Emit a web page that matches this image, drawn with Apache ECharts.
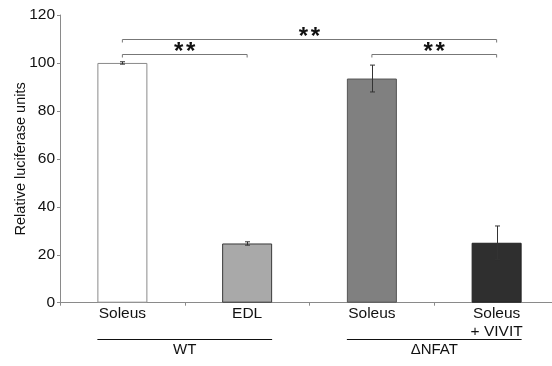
<!DOCTYPE html>
<html>
<head>
<meta charset="utf-8">
<script src="https://cdn.jsdelivr.net/npm/echarts@6/dist/echarts.min.js"></script>
<style>html,body{margin:0;padding:0;background:#fff}#c{width:552px;height:366px}</style>
</head>
<body>
<div id="c"></div>
<script>
// ---- data ----
var categories = ['Soleus', 'EDL', 'Soleus', 'Soleus\n+ VIVIT'];
var values = [100, 24.7, 93.5, 25];
var errors = [0.5, 0.7, 5.6, 7];
var yTicks = [0, 20, 40, 60, 80, 100, 120];
// significance brackets: [fromIndex, toIndex, yValue, label]
var brackets = [[0, 1, 103.8, '**'], [0, 3, 109.8, '**'], [2, 3, 103.8, '**']];
// group labels: [fromIndex, toIndex, label]
var groups = [[0, 1, 'WT'], [2, 3, '\u0394NFAT']];

// ---- styles ----
var fills = ['#ffffff', '#a9a9a9', '#808080', '#2f2f2f'];
var borders = ['#8a8a8a', '#3a3a3a', '#555555', '#222222'];
var FONT = 'Liberation Sans, Arial, sans-serif';

var chart = echarts.init(document.getElementById('c'));

var barData = values.map(function (v, i) {
  return { value: v, itemStyle: { color: fills[i], borderColor: borders[i], borderWidth: 1 } };
});
var errData = values.map(function (v, i) { return [i, v - errors[i], v + errors[i]]; });

chart.setOption({
  animation: false,
  grid: { left: 60, top: 15, width: 499, bottom: 63.3, containLabel: false, outerBoundsMode: 'none' },
  xAxis: {
    type: 'category',
    data: categories,
    axisLine: { lineStyle: { color: '#8a8a8a', width: 1 } },
    axisTick: { show: true, length: 3, lineStyle: { color: '#8a8a8a' } },
    axisLabel: { color: '#111', fontSize: 15.5, fontFamily: FONT, lineHeight: 18, margin: 2 }
  },
  yAxis: {
    type: 'value',
    min: yTicks[0], max: yTicks[yTicks.length - 1], interval: 20,
    name: 'Relative luciferase units',
    nameLocation: 'middle',
    nameGap: 32,
    nameMoveOverlap: false,
    nameTextStyle: { color: '#111', fontSize: 14.5, fontFamily: FONT },
    axisLine: { show: true, lineStyle: { color: '#8a8a8a', width: 1 } },
    axisTick: { show: true, length: 3, lineStyle: { color: '#8a8a8a' } },
    axisLabel: { color: '#111', fontSize: 15.5, fontFamily: FONT, margin: 5 },
    splitLine: { show: false }
  },
  series: [
    {
      type: 'bar',
      data: barData,
      barWidth: 50,
      z: 2
    },
    {
      type: 'custom',
      data: errData,
      z: 5,
      renderItem: function (params, api) {
        var x = api.value(0);
        var lo = api.coord([x, api.value(1)]);
        var hi = api.coord([x, api.value(2)]);
        var cx = Math.round(lo[0]) + 0.5;
        var w = 2.5;
        var st = { stroke: '#333', lineWidth: 1 };
        return {
          type: 'group',
          children: [
            { type: 'line', shape: { x1: cx, y1: lo[1], x2: cx, y2: hi[1] }, style: st },
            { type: 'line', shape: { x1: cx - w, y1: lo[1], x2: cx + w, y2: lo[1] }, style: st },
            { type: 'line', shape: { x1: cx - w, y1: hi[1], x2: cx + w, y2: hi[1] }, style: st }
          ]
        };
      }
    },
    {
      type: 'custom',
      data: brackets,
      z: 5,
      clip: false,
      renderItem: function (params, api) {
        var a = api.coord([api.value(0), api.value(2)]);
        var b = api.coord([api.value(1), api.value(2)]);
        var y = Math.round(a[1]) + 0.5;
        var st = { stroke: '#777', lineWidth: 1 };
        var mid = (a[0] + b[0]) / 2;
        var starStyle = { text: '*', fill: '#111', font: 'bold 24px ' + FONT, align: 'center', verticalAlign: 'top' };
        return {
          type: 'group',
          children: [
            { type: 'line', shape: { x1: a[0], y1: y, x2: b[0], y2: y }, style: st },
            { type: 'line', shape: { x1: a[0], y1: y, x2: a[0], y2: y + 3 }, style: st },
            { type: 'line', shape: { x1: b[0], y1: y, x2: b[0], y2: y + 3 }, style: st },
            { type: 'text', x: mid - 6, y: y - 14, style: starStyle },
            { type: 'text', x: mid + 6, y: y - 14, style: starStyle }
          ]
        };
      }
    },
    {
      type: 'custom',
      data: groups,
      z: 5,
      clip: false,
      renderItem: function (params, api) {
        var a = api.coord([api.value(0), 0]);
        var b = api.coord([api.value(1), 0]);
        var y = Math.round(a[1] + 36.6) + 0.5;
        var x1 = a[0] - 25, x2 = b[0] + 25;
        return {
          type: 'group',
          children: [
            { type: 'line', shape: { x1: x1, y1: y, x2: x2, y2: y }, style: { stroke: '#111', lineWidth: 1 } },
            { type: 'text', x: (x1 + x2) / 2, y: y + 3, style: { text: groups[params.dataIndex][2], fill: '#111', font: '15px ' + FONT, align: 'center', verticalAlign: 'top' } }
          ]
        };
      }
    }
  ]
});
</script>
</body>
</html>
